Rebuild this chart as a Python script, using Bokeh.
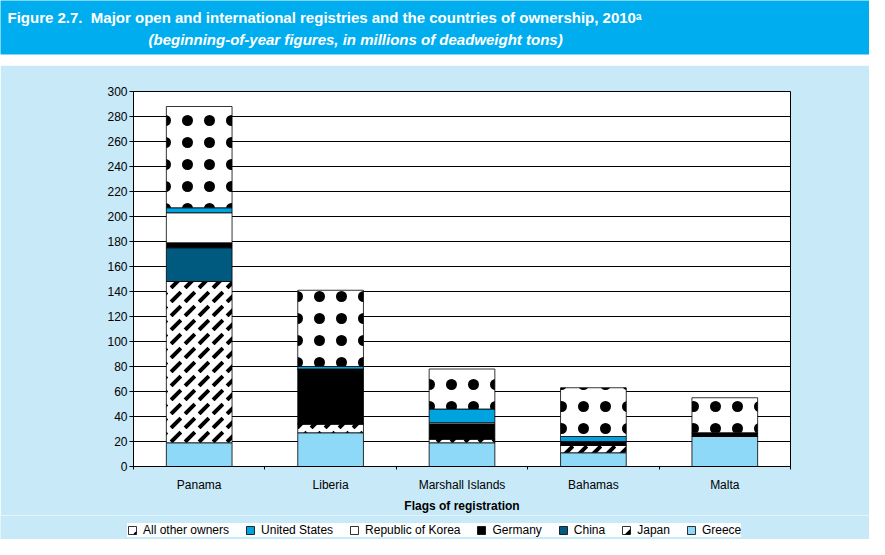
from bokeh.plotting import figure
from bokeh.models import ColumnDataSource, Range1d, FixedTicker, Legend, LegendItem, Label
from bokeh.layouts import column
from bokeh.embed import file_html
from bokeh.resources import INLINE

# ---- data (millions of dwt, beginning of 2010) ----
flags = ["Panama", "Liberia", "Marshall Islands", "Bahamas", "Malta"]
greece = [19, 27, 19, 11, 24]
japan = [129, 7, 3, 6, 0]
china = [27, 0, 0, 0, 0]
germany = [4, 44, 12, 3, 3]
korea = [24, 0, 1, 0, 0]
united_states = [4, 2, 11, 4, 0]
all_other = [81, 61, 32, 39, 28]
owner_labels = ["Greece", "Japan", "China", "Germany", "Republic of Korea",
                "United States", "All other owners"]
y_ticks = list(range(0, 301, 20))

FONT = "'Liberation Sans', Arial, sans-serif"
BANNER = "#00AEEF"
PANEL = "#C8E9F8"
W = 869

fills = ["#8ED8F8", "white", "#005A80", "black", "white", "#00A3E0", "white"]
hatches = [None, "right_diagonal_dash", None, None, None, None, "dot"]
hscales = [12, 14, 12, 12, 12, 12, 22]
hweights = [1, 4, 1, 1, 1, 1, 7]

# ---- banner with title ----
banner = figure(width=W, height=65, x_range=Range1d(0, W), y_range=Range1d(0, 54),
                x_axis_type=None, y_axis_type=None, toolbar_location=None,
                output_backend="svg", min_border_left=0, min_border_right=0,
                min_border_top=0, min_border_bottom=11,
                background_fill_color=BANNER, border_fill_color="white",
                outline_line_color=None, frame_align=False)
banner.add_layout(Label(x=7, y=29, text="Figure 2.7.\u00a0 Major open and international registries and the countries of ownership, 2010ᵃ",
                        text_font=FONT, text_font_style="bold", text_font_size="15px",
                        text_color="white"))
banner.add_layout(Label(x=148, y=7, text="(beginning-of-year figures, in millions of deadweight tons)",
                        text_font=FONT, text_font_style="bold italic", text_font_size="15px",
                        text_color="white"))

# ---- main chart ----
x_pos = [i + 0.5 for i in range(len(flags))]
keys = ["greece", "japan", "china", "germany", "korea", "us", "other"]
source = ColumnDataSource(dict(x=x_pos, greece=greece, japan=japan, china=china,
                               germany=germany, korea=korea, us=united_states,
                               other=all_other))

p = figure(width=W, height=450, x_range=Range1d(0, 5), y_range=Range1d(0, 300),
           toolbar_location=None, output_backend="svg",
           min_border_left=133, min_border_right=79, min_border_top=26, min_border_bottom=44,
           background_fill_color="white", border_fill_color=PANEL,
           outline_line_color="black", outline_line_width=1, frame_align=False)

bar_style = dict(fill_color=fills, line_color="black", line_width=0.8,
                 hatch_pattern=hatches, hatch_color="black",
                 hatch_scale=hscales, hatch_weight=hweights)
p.vbar_stack(keys, x="x", width=0.5, source=source, **bar_style)

# axes
p.xaxis.ticker = FixedTicker(ticks=x_pos, minor_ticks=[0, 1, 2, 3, 4, 5])
p.xaxis.major_label_overrides = {x: f for x, f in zip(x_pos, flags)}
p.xaxis.major_tick_out = 0
p.xaxis.major_tick_in = 0
p.xaxis.minor_tick_out = 3
p.xaxis.minor_tick_in = 0
p.xaxis.minor_tick_line_color = "black"
p.xaxis.major_label_standoff = 8
p.xaxis.axis_label = "Flags of registration"
p.xaxis.axis_label_text_font = FONT
p.xaxis.axis_label_text_font_style = "bold"
p.xaxis.axis_label_text_font_size = "12px"
p.xaxis.axis_label_standoff = 4

p.yaxis.ticker = FixedTicker(ticks=y_ticks)
p.yaxis.major_tick_out = 4
p.yaxis.major_tick_in = 0
p.yaxis.major_label_standoff = 2

for ax in (p.xaxis, p.yaxis):
    ax.axis_line_color = "black"
    ax.major_tick_line_color = "black"
    ax.major_label_text_font = FONT
    ax.major_label_text_font_size = "12px"
    ax.major_label_text_color = "black"
    ax.axis_label_text_color = "black"

p.xgrid.grid_line_color = None
p.ygrid.ticker = FixedTicker(ticks=y_ticks)
p.ygrid.grid_line_color = "black"
p.ygrid.grid_line_width = 1

# ---- legend strip: same stacked series (hidden), used only for the legend keys ----
lf = figure(width=W, height=24, x_range=Range1d(6, 7), y_range=Range1d(0, 1),
            x_axis_type=None, y_axis_type=None, toolbar_location=None,
            output_backend="svg", min_border_left=0, min_border_right=0,
            min_border_top=0, min_border_bottom=0,
            background_fill_color=PANEL, border_fill_color=PANEL,
            outline_line_color=None, frame_align=False)
leg_renderers = lf.vbar_stack(keys, x="x", width=0.5, source=source, **bar_style)
for r in leg_renderers:
    r.visible = False
items = [LegendItem(label=lab, renderers=[r]) for lab, r in zip(owner_labels, leg_renderers)]
legend = Legend(items=items[::-1], orientation="horizontal", location=(127, 2),
                background_fill_color="white", border_line_color=None,
                label_text_font=FONT, label_text_font_size="12px", label_text_color="black",
                glyph_width=10, glyph_height=10, label_height=12, label_standoff=6,
                spacing=16, padding=4, margin=0, click_policy="none")
lf.add_layout(legend)

layout = column(banner, p, lf, spacing=0)
open("out.html", "w").write(file_html(layout, INLINE))
